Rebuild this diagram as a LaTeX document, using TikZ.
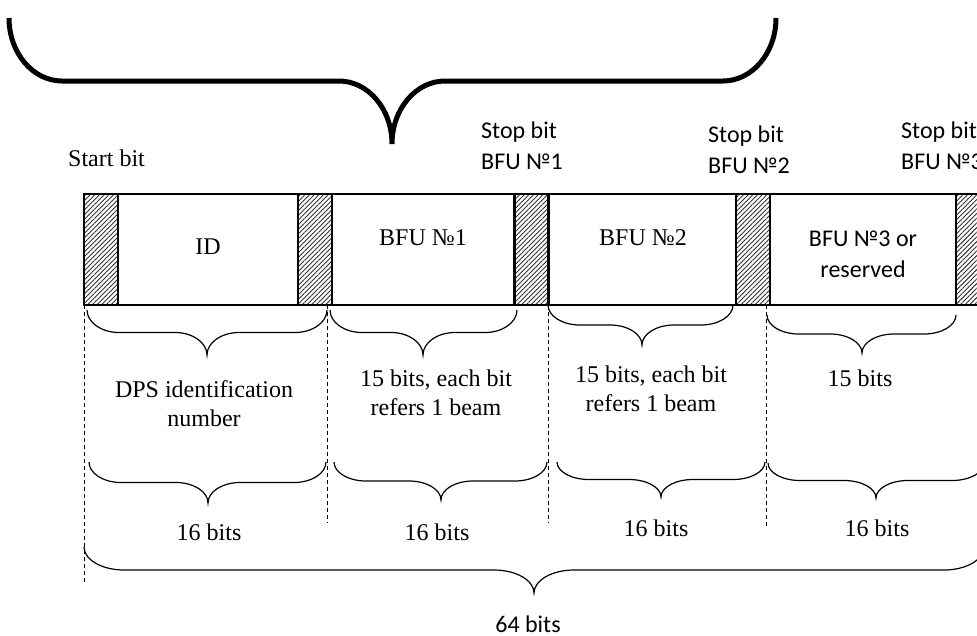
\documentclass[tikz,border=0pt]{standalone}
\usepackage{fontspec}
\setmainfont{Liberation Serif}
\newfontfamily\calfont{Carlito}
\usetikzlibrary{patterns.meta}
\newcommand\drawbrace[7][]{%
  \pgfmathsetmacro\bxa{#2}\pgfmathsetmacro\bxb{#3}%
  \pgfmathsetmacro\byt{#4}\pgfmathsetmacro\byb{#5}%
  \pgfmathsetmacro\bxm{#6}\pgfmathsetmacro\brx{#7}%
  \pgfmathsetmacro\bym{(\byt+\byb)/2}%
  \pgfmathsetmacro\bdy{(\byb-\byt)/2*0.552}%
  \pgfmathsetmacro\bdx{\brx*0.552}%
  \draw[#1] (\bxa,\byt) .. controls (\bxa,\byt+\bdy) and (\bxa+\brx-\bdx,\bym) .. (\bxa+\brx,\bym)
    -- (\bxm-\brx,\bym) .. controls (\bxm-\brx+\bdx,\bym) and (\bxm,\byb-\bdy) .. (\bxm,\byb)
    .. controls (\bxm,\byb-\bdy) and (\bxm+\brx-\bdx,\bym) .. (\bxm+\brx,\bym)
    -- (\bxb-\brx,\bym) .. controls (\bxb-\brx+\bdx,\bym) and (\bxb,\byt+\bdy) .. (\bxb,\byt);%
}
\tikzset{
  serif/.style={font=\fontsize{24}{29}\selectfont, inner sep=0pt, align=center},
  sans/.style={font=\calfont\fontsize{24}{31}\selectfont, inner sep=0pt},
  frame/.style={draw, line width=2.4pt, inner sep=0pt, minimum height=111pt},
  hatchbox/.style={frame, minimum width=34pt,
    pattern={Lines[angle=45,distance=3.3pt,line width=0.9pt]}, pattern color=black!80},
  thinbrace/.style={line width=1.2pt},
  guide/.style={line width=0.9pt, dash pattern=on 4pt off 3pt}
}
\begin{document}
\begin{tikzpicture}[x=1pt,y=-1pt]
\clip (0,0) rectangle (977,635);
\fill[white] (0,0) rectangle (977,635);
% top thick brace
\drawbrace[line width=5pt]{9}{776}{18}{144}{392}{53}
% labels above
\node[serif] (start) at (106.5,158) {Start bit};
\node[sans, anchor=west, align=left] (stop1) at (481,146) {Stop bit\\BFU №1};
\node[sans, anchor=west, align=left] (stop2) at (708,150) {Stop bit\\BFU №2};
\node[sans, anchor=west, align=left] (stop3) at (901,146) {Stop bit\\BFU №3};
% frame
\node[frame, minimum width=906pt] (frame) at (537,249.5) {};
\node[hatchbox] (h0) at (101,249.5) {};
\node[hatchbox] (h1) at (315,249.5) {};
\node[hatchbox] (h2) at (531.5,249.5) {};
\node[hatchbox] (h3) at (753,249.5) {};
\node[hatchbox] (h4) at (973,249.5) {};
\node[serif] (id) at (208,247) {ID};
\node[serif] (bfu1) at (423,238) {BFU №1};
\node[serif] (bfu2) at (643,238) {BFU №2};
\node[sans, align=center] (bfu3) at (863,254.5) {BFU №3 or\\reserved};
% dashed guides
\coordinate (g0a) at (84,305); \coordinate (g0b) at (84,582);
\coordinate (g1a) at (327,305); \coordinate (g1b) at (327,523);
\coordinate (g2a) at (548,305); \coordinate (g2b) at (548,523);
\coordinate (g3a) at (766,305); \coordinate (g3b) at (766,527);
\draw[guide] (g0a) -- (g0b);
\draw[guide] (g1a) -- (g1b);
\draw[guide] (g2a) -- (g2b);
\draw[guide] (g3a) -- (g3b);
% upper braces
\drawbrace[thinbrace]{87}{327}{310}{355}{207}{32}
\drawbrace[thinbrace]{330}{517}{310}{355}{423}{32}
\drawbrace[thinbrace]{548}{733}{305}{345}{642}{32}
\drawbrace[thinbrace]{767}{956}{315}{353}{862}{32}
\node[serif] (dps) at (204,403.5) {DPS identification\\number};
\node[serif] (b1) at (436,392.5) {15 bits, each bit\\refers 1 beam};
\node[serif] (b2) at (651,389) {15 bits, each bit\\refers 1 beam};
\node[serif] (b3) at (860,378) {15 bits};
% lower braces
\drawbrace[thinbrace]{89}{326}{462}{503}{208}{32}
\drawbrace[thinbrace]{334}{547}{462}{500}{441}{32}
\drawbrace[thinbrace]{557}{765}{462}{497}{661}{32}
\drawbrace[thinbrace]{768}{984}{463}{498}{876}{32}
\node[serif] (s1) at (209,532) {16 bits};
\node[serif] (s2) at (437,532) {16 bits};
\node[serif] (s3) at (656,528) {16 bits};
\node[serif] (s4) at (877,528) {16 bits};
% big brace
\drawbrace[thinbrace]{84}{984}{547}{593}{534}{40}
\node[sans] (total) at (528,624) {64 bits};
\end{tikzpicture}
\end{document}
